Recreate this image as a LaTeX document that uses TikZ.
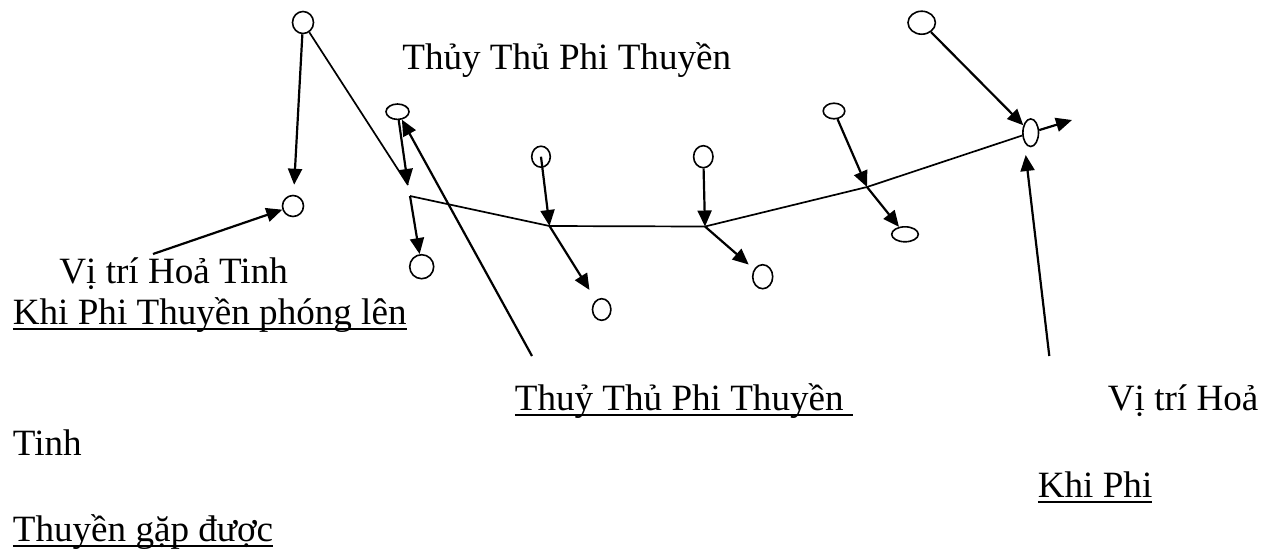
\documentclass[tikz,border=0pt]{standalone}
\usepackage{fontspec}
\setmainfont{Liberation Serif}
\usetikzlibrary{arrows.meta,shapes.geometric}
\newcommand\myul[1]{\setbox0\hbox{#1}\rlap{\rule[-3.2pt]{\wd0}{1pt}}\box0}
\tikzset{
  oval/.style 2 args={draw,ellipse,line width=0.8pt,inner sep=0pt,minimum width=#1,minimum height=#2},
  arr/.style={line width=1.1pt,-{Triangle[length=8pt,width=7pt]}},
  plain/.style={line width=0.85pt},
  txt/.style={inner sep=0pt,anchor=base west,font=\fontsize{18.55pt}{22pt}\selectfont}
}
\begin{document}
\begin{tikzpicture}[x=0.5pt,y=-0.5pt]
\useasboundingbox (0,0) rectangle (1270,548);
% ovals
\node[oval={10.5pt}{11pt}]   (E1)  at (303,22.5) {};
\node[oval={10.5pt}{10.5pt}] (E2)  at (293,206) {};
\node[oval={11.5pt}{7.7pt}]  (E3)  at (397.5,111.7) {};
\node[oval={12pt}{12pt}]     (E4)  at (421.7,266.7) {};
\node[oval={9.3pt}{10.5pt}]  (E5)  at (541,156.7) {};
\node[oval={9.2pt}{10.8pt}]  (E6)  at (601.7,309.5) {};
\node[oval={9.7pt}{11pt}]    (E7)  at (703.3,156.7) {};
\node[oval={10pt}{12pt}]     (E8)  at (762.7,276.7) {};
\node[oval={10.8pt}{7.8pt}]  (E9)  at (834,111) {};
\node[oval={13.3pt}{7.5pt}]  (E10) at (905,234.3) {};
\node[oval={13.7pt}{11.5pt}] (E11) at (921.7,22.7) {};
\node[oval={7.8pt}{13.8pt}]  (E12) at (1030.7,132.7) {};
% junctions and free ends
\coordinate (J0) at (410,196);
\coordinate (J1) at (549.5,226);
\coordinate (J2) at (705,226.5);
\coordinate (J3) at (867,187);
\coordinate (T1) at (408,185);
\coordinate (T2) at (1025.7,155);
\coordinate (B1) at (532,356);
\coordinate (B2) at (1049.3,356);
\coordinate (R)  at (1072,120);
\coordinate (L)  at (153,254);
% path of the ship
\draw[plain,line join=round] (J0) -- (J1) -- (J2) -- (J3) -- (E12);
% connectors
\draw[plain] (E1) -- (T1);
\draw[arr] (E3) -- (T1);
\draw[arr] (B1) -- (E3);
\draw[arr,shorten >=5pt] (E1) -- (E2);
\draw[arr] (J0) -- (E4);
\draw[arr] (E5.center) -- (J1);
\draw[arr,shorten >=6pt] (J1) -- (E6);
\draw[arr] (E7) -- (J2);
\draw[arr,shorten >=3.5pt] (J2) -- (E8);
\draw[arr] (E9) -- (J3);
\draw[arr] (J3) -- (E10);
\draw[arr] (E11) -- (E12);
\draw[arr] (E12) -- (R);
\draw[arr] (B2) -- (T2);
\draw[arr] (L) -- (E2);
% texts
\node[txt] (t1) at (402,69)   {Thủy Thủ Phi Thuyền};
\node[txt] (t2) at (59,283)   {Vị trí Hoả Tinh};
\node[txt] (t3) at (12.5,324) {\myul{Khi Phi Thuyền phóng lên}};
\node[txt] (t4) at (514.5,410) {\myul{Thuỷ Thủ Phi Thuyền\ }};
\node[txt] (t5) at (1107.5,410) {Vị trí Hoả};
\node[txt] (t6) at (12.5,455) {Tinh};
\node[txt] (t7) at (1037.5,497) {\myul{Khi Phi}};
\node[txt] (t8) at (12.5,541) {\myul{Thuyền gặp được}};
\end{tikzpicture}
\end{document}
